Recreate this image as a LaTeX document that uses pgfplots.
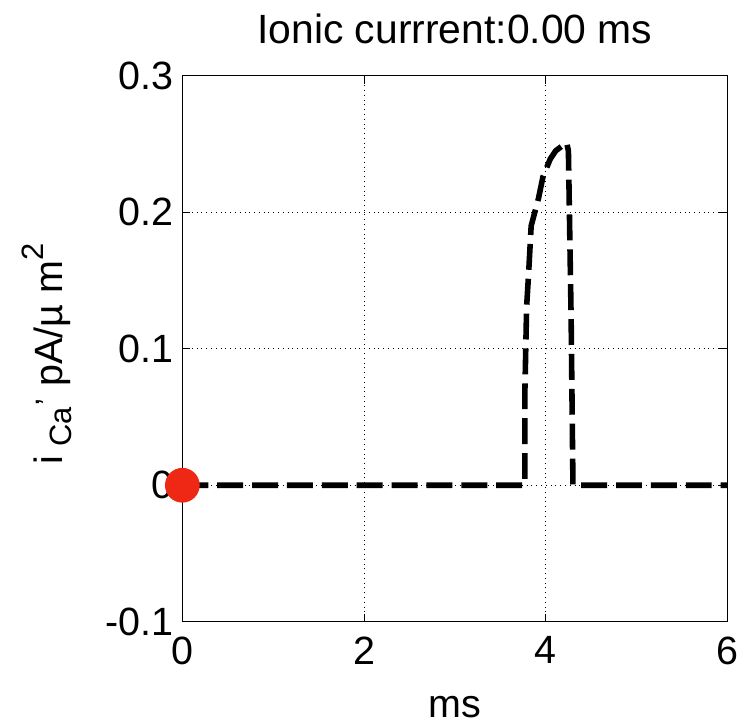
\documentclass[border=0pt]{standalone}
\usepackage{fontspec}
\setmainfont{Liberation Sans}
\usepackage{pgfplots}
\pgfplotsset{compat=1.18}
\definecolor{dotred}{RGB}{238,40,20}
\newcommand{\bigfnt}{\fontsize{19.8}{23}\selectfont}
\newcommand{\titlefnt}{\fontsize{20.5}{24}\selectfont}
\newcommand{\subfnt}{\fontsize{15.5}{18}\selectfont}
\begin{document}
\begin{tikzpicture}
\begin{axis}[
  scale only axis,
  width=273.5pt, height=274pt,
  xmin=0, xmax=6, ymin=-0.1, ymax=0.3,
  xtick={0,2,4,6}, ytick={-0.1,0,0.1,0.2,0.3},
  xticklabels={0,2,4,6},
  yticklabels={-0.1,0,0.1,0.2,0.3},
  tick align=inside, tick style={black, line width=0.4pt},
  major tick length=4pt,
  grid=major, grid style={black, dotted, line width=0.5pt},
  axis line style={black, line width=0.6pt},
  tick label style={font=\bigfnt},
  xticklabel style={anchor=north, yshift=-4pt},
  yticklabel style={anchor=east, xshift=-1pt},
  label style={font=\bigfnt},
  title style={font=\titlefnt, anchor=base, yshift=10pt},
  title={Ionic currrent:0.00 ms},
  xlabel={ms},
  xlabel style={yshift=-9pt},
  ylabel={i\hspace{0.25em}\raisebox{-0.45ex}{\subfnt Ca}\raisebox{1.1ex}{\subfnt ,}\hspace{0.3em}pA/µ m\raisebox{0.9ex}{\subfnt 2}},
  ylabel style={at={(axis description cs:-0.19,0.49)}, anchor=south},
  clip mode=individual,
  /pgf/number format/assume math mode=true,
]
\addplot[black, line width=2.8pt, dash pattern=on 13pt off 4.5pt] coordinates {
(0,0) (3.77,0) (3.77,0.066) (3.79,0.131) (3.81,0.153) (3.84,0.19) (3.92,0.21) (3.97,0.226) (4.05,0.239) (4.11,0.245) (4.23,0.251) (4.25,0.245) (4.28,0.122) (4.30,0) (6,0)
};
\addplot[only marks, mark=*, mark size=8.5pt, dotred, mark options={draw=dotred, fill=dotred}] coordinates {(0,0)};
\coordinate (SW) at (rel axis cs:0,0);
\coordinate (NE) at (rel axis cs:1,1);
\end{axis}
\path[use as bounding box] ([xshift=-91.5pt,yshift=-52pt]SW) rectangle ([xshift=7.5pt,yshift=38pt]NE);
\end{tikzpicture}
\end{document}
